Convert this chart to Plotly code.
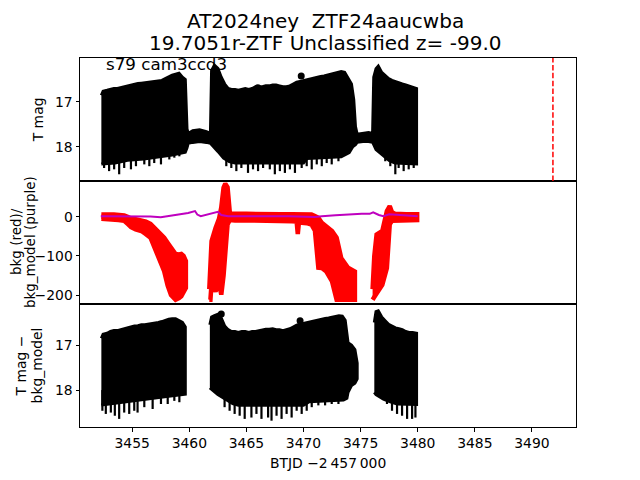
import plotly.graph_objects as go

# ---------------- data ----------------
# Panel 1: T mag -- bright-side envelope, faint-side envelope and error-bar spikes
t1_top = [3452.30, 3452.45, 3452.8, 3453.1, 3453.4, 3453.7, 3454.0, 3454.3, 3454.6, 3454.9,
          3455.2, 3455.5, 3455.8, 3456.1, 3456.4, 3456.7, 3457.0, 3457.3, 3457.6, 3457.9,
          3458.2, 3458.5, 3458.8, 3459.1, 3459.4, 3459.65, 3459.8, 3459.9, 3460.3, 3460.9,
          3461.5, 3461.85, 3461.95, 3462.2, 3462.5, 3462.8, 3463.1, 3463.4, 3463.7, 3464.0,
          3464.3, 3464.6, 3464.9, 3465.2, 3465.5, 3465.8, 3466.1, 3466.4, 3466.7, 3467.0,
          3467.3, 3467.6, 3467.9, 3468.2, 3468.5, 3468.8, 3469.1, 3469.4, 3469.7, 3470.0,
          3470.3, 3470.6, 3470.9, 3471.2, 3471.5, 3471.8, 3472.1, 3472.4, 3472.7, 3473.0,
          3473.3, 3473.6, 3473.9, 3474.2, 3474.4, 3474.55, 3474.7, 3475.2, 3475.7, 3476.05,
          3476.15, 3476.35, 3476.55, 3476.85, 3477.15, 3477.45, 3477.75, 3478.05, 3478.35, 3478.65,
          3478.95, 3479.25, 3479.55, 3479.9]
top1 = [16.85, 16.76, 16.74, 16.72, 16.70, 16.70, 16.68, 16.66, 16.64, 16.62,
        16.60, 16.59, 16.58, 16.57, 16.56, 16.55, 16.55, 16.54, 16.52, 16.48,
        16.44, 16.40, 16.38, 16.36, 16.45, 16.50, 17.60, 17.70, 17.64, 17.62,
        17.66, 17.70, 16.30, 16.18, 16.25, 16.45, 16.60, 16.70, 16.72, 16.72,
        16.74, 16.72, 16.70, 16.72, 16.70, 16.66, 16.66, 16.66, 16.64, 16.64,
        16.62, 16.62, 16.64, 16.66, 16.66, 16.64, 16.60, 16.56, 16.54, 16.52,
        16.50, 16.48, 16.46, 16.45, 16.43, 16.42, 16.40, 16.38, 16.36, 16.34,
        16.32, 16.34, 16.48, 16.60, 16.95, 17.55, 17.72, 17.70, 17.68, 17.70,
        16.45, 16.26, 16.20, 16.34, 16.42, 16.48, 16.52, 16.55, 16.58, 16.60,
        16.62, 16.64, 16.66, 16.70]
t1_bot = [3452.30, 3453.5, 3454.6, 3456.0, 3457.5, 3458.5, 3459.65, 3459.8, 3459.9, 3460.3,
          3460.9, 3461.5, 3461.85, 3461.95, 3462.5, 3463.0, 3463.5, 3464.0, 3470.0, 3470.3,
          3473.3, 3474.0, 3474.3, 3474.55, 3474.7, 3475.2, 3475.7, 3476.05, 3476.15, 3476.35,
          3477.0, 3477.5, 3478.0, 3479.9]
bot1 = [18.38, 18.36, 18.30, 18.27, 18.22, 18.18, 18.12, 18.02, 17.92, 17.90,
        17.88, 17.90, 17.92, 17.95, 18.10, 18.25, 18.33, 18.36, 18.36, 18.26,
        18.22, 18.13, 18.00, 17.95, 17.90, 17.88, 17.88, 17.90, 17.95, 18.06,
        18.20, 18.30, 18.36, 18.38]
sp1_t = [3452.54, 3452.98, 3453.42, 3453.86, 3454.30, 3454.89, 3455.33, 3456.06, 3456.50,
         3456.93, 3457.52, 3458.25, 3458.69, 3459.13, 3463.24, 3463.68, 3464.12, 3464.56,
         3465.14, 3465.58, 3466.02, 3466.46, 3467.05, 3467.49, 3467.93, 3468.37, 3468.81,
         3469.25, 3469.84, 3470.28, 3470.72, 3471.16, 3471.60, 3472.03, 3472.47, 3473.06,
         3477.16, 3477.60, 3478.04, 3478.33, 3478.77, 3479.21, 3479.65]
sp1_m = [18.47, 18.54, 18.50, 18.61, 18.47, 18.50, 18.43, 18.39, 18.43, 18.36, 18.39,
         18.28, 18.24, 18.21, 18.43, 18.47, 18.54, 18.47, 18.58, 18.50, 18.54, 18.47,
         18.50, 18.61, 18.54, 18.58, 18.50, 18.58, 18.47, 18.43, 18.50, 18.39, 18.43,
         18.36, 18.39, 18.32, 18.32, 18.43, 18.61, 18.47, 18.54, 18.50, 18.47]
dots1_t = [3469.8, 3466.0]
dots1_m = [16.42, 16.68]

# Panel 2: background (red) envelopes per segment, and bkg model (purple)
bkgA_t = [3452.30, 3452.6, 3453.0, 3453.4, 3453.8, 3454.3, 3454.6, 3454.9, 3455.3, 3455.8,
          3456.2, 3456.6, 3456.9, 3457.2, 3457.5, 3457.8, 3458.1, 3458.4, 3458.8, 3459.1,
          3459.3, 3459.5, 3459.7]
bkgA_hi = [6, 7, 6, 6, 5, 4, 0, -4, -6, -8, -12, -18, -26, -36, -44, -53, -66, -79,
           -95, -96, -95, -100, -113]
bkgA_lo = [-5, -6, -6, -7, -8, -10, -18, -26, -32, -36, -44, -53, -72, -95, -118, -139,
           -175, -200, -212, -208, -203, -195, -182]
bkgB_t = [3461.75, 3461.85, 3461.95, 3462.3, 3462.6, 3462.8, 3463.0, 3463.15, 3463.35,
          3463.55, 3464.0, 3465.0, 3466.0, 3467.0, 3468.0, 3469.0, 3469.4, 3469.5, 3469.6,
          3470.3, 3470.7, 3471.0, 3471.3, 3471.6, 3472.0, 3472.5, 3472.9, 3473.3, 3473.9,
          3474.5]
bkgB_hi = [-185, -100, -62, -28, -5, 24, 75, 85, 76, 10, 8, 8, 7, 7, 7, 7, 7, 7, 7, 6,
           6, 2, -2, -15, -25, -36, -53, -105, -130, -140]
bkgB_lo = [-212, -212, -170, -191, -170, -199, -150, -100, -19, -8, -9, -9, -10, -10, -10,
           -11, -12, -44, -14, -16, -20, -35, -130, -131, -140, -165, -212, -212, -212, -212]
bkgC_t = [3476.05, 3476.2, 3476.4, 3476.9, 3477.3, 3477.55, 3477.75, 3478.0, 3479.0, 3479.95]
bkgC_hi = [-185, -100, -45, -36, 15, 28, 12, 8, 7, 7]
bkgC_lo = [-212, -205, -200, -174, -131, -19, -10, -9, -9, -8]

model_t = [3452.25, 3454.6, 3456.6, 3457.5, 3458.7, 3459.9, 3460.5, 3460.7, 3461.0, 3461.6,
           3462.1, 3462.5, 3462.8, 3463.4, 3465.7, 3468.7, 3471.0, 3471.6, 3472.8, 3474.2,
           3475.1, 3475.8, 3476.1, 3476.6, 3477.0, 3477.5, 3480.0]
model_v = [2, 2, 1, -1, 4, 10, 15, 6, 2, 7, 10, 13, 5, 2, 2, 2, 0, 2, 4, 7, 8, 8, 12, 5,
           2, 7, 2]

# Panel 3: T mag - bkg_model envelopes per segment
mA_t = [3452.30, 3452.45, 3452.8, 3453.1, 3453.4, 3453.7, 3454.0, 3454.3, 3454.6, 3454.9,
        3455.2, 3455.5, 3455.8, 3456.1, 3456.4, 3456.7, 3457.0, 3457.3, 3457.6, 3457.9,
        3458.2, 3458.5, 3458.8, 3459.1, 3459.4, 3459.65]
mA_top = [16.85, 16.76, 16.74, 16.70, 16.68, 16.68, 16.66, 16.64, 16.61, 16.60, 16.58,
          16.57, 16.55, 16.55, 16.54, 16.52, 16.51, 16.50, 16.48, 16.45, 16.43, 16.42,
          16.42, 16.46, 16.50, 16.60]
mA_bt = [3452.30, 3453.5, 3455.0, 3457.5, 3459.65]
mA_bot = [18.33, 18.30, 18.24, 18.16, 18.09]
mB_t = [3461.80, 3461.95, 3462.2, 3462.5, 3462.8, 3463.1, 3463.4, 3463.7, 3464.0, 3464.3,
        3464.6, 3464.9, 3465.2, 3465.5, 3465.8, 3466.1, 3466.4, 3466.7, 3467.0, 3467.3,
        3467.6, 3467.9, 3468.2, 3468.5, 3468.8, 3469.1, 3469.4, 3469.7, 3470.0, 3470.3,
        3470.6, 3471.0, 3471.3, 3471.6, 3471.9, 3472.2, 3472.5, 3472.8, 3473.1, 3473.4,
        3473.65, 3473.8, 3473.9, 3474.2, 3474.5, 3474.7]
mB_top = [16.55, 16.38, 16.35, 16.32, 16.40, 16.58, 16.66, 16.70, 16.70, 16.72, 16.70,
          16.70, 16.72, 16.70, 16.70, 16.68, 16.66, 16.65, 16.65, 16.64, 16.66, 16.66,
          16.68, 16.66, 16.64, 16.60, 16.56, 16.54, 16.52, 16.50, 16.49, 16.47, 16.45,
          16.43, 16.41, 16.40, 16.38, 16.36, 16.35, 16.36, 16.45, 16.75, 16.95, 17.00,
          17.10, 17.40]
mB_bt = [3461.80, 3462.5, 3463.1, 3463.8, 3464.3, 3470.0, 3470.5, 3473.5, 3473.8, 3473.9,
         3474.2, 3474.5, 3474.7]
mB_bot = [17.95, 18.10, 18.20, 18.30, 18.34, 18.34, 18.26, 18.22, 18.18, 18.05, 17.90,
          17.85, 17.75]
mC_t = [3476.20, 3476.35, 3476.55, 3476.85, 3477.15, 3477.45, 3477.75, 3478.05, 3478.35,
        3478.65, 3478.95, 3479.25, 3479.55, 3479.9]
mC_top = [16.50, 16.26, 16.24, 16.38, 16.46, 16.54, 16.58, 16.62, 16.64, 16.66, 16.70,
          16.72, 16.72, 16.74]
mC_bt = [3476.20, 3476.35, 3477.0, 3477.6, 3478.2, 3479.9]
mC_bot = [18.05, 18.10, 18.20, 18.26, 18.31, 18.32]
sp3_t = [3452.39, 3452.69, 3453.13, 3453.48, 3453.86, 3454.30, 3454.74, 3455.18, 3455.47,
         3456.06, 3456.79, 3457.52, 3458.11, 3458.69, 3459.13, 3463.09, 3463.53, 3463.97,
         3464.41, 3464.85, 3465.44, 3465.88, 3466.32, 3466.90, 3467.20, 3467.64, 3468.08,
         3468.52, 3468.96, 3469.40, 3469.84, 3470.28, 3470.72, 3471.30, 3471.89, 3472.47,
         3473.06, 3477.31, 3477.75, 3478.19, 3478.63, 3479.07, 3479.51, 3479.80]
sp3_m = [18.46, 18.53, 18.50, 18.57, 18.64, 18.50, 18.53, 18.46, 18.50, 18.38, 18.42,
         18.31, 18.31, 18.24, 18.27, 18.38, 18.46, 18.53, 18.57, 18.64, 18.61, 18.53,
         18.64, 18.61, 18.68, 18.57, 18.64, 18.53, 18.61, 18.46, 18.53, 18.46, 18.38,
         18.34, 18.34, 18.31, 18.31, 18.31, 18.46, 18.53, 18.57, 18.64, 18.64, 18.61]
dots3_t = [3469.7, 3462.8]
dots3_m = [16.46, 16.31]

peak_t = 3491.84
xticks = [3455, 3460, 3465, 3470, 3475, 3480, 3485, 3490]
bkg_ticks = [-200, -100, 0]
bkg_ticktext = ["\u2212200", "\u2212100", "0"]
title_lines = ["AT2024ney\u00a0 ZTF24aaucwba", "19.7051r-ZTF Unclassified z= -99.0"]

# ---------------- figure ----------------
FONT = "DejaVu Sans"
RED = "#ff0000"
fig = go.Figure()


def blob(tt, hi, tb, lo, color, xa, ya, lw):
    fig.add_trace(go.Scatter(
        x=list(tt) + list(tb)[::-1], y=list(hi) + list(lo)[::-1],
        fill="toself", fillcolor=color, mode="lines",
        line=dict(color=color, width=lw), xaxis=xa, yaxis=ya,
        showlegend=False, hoverinfo="skip"))


def spikes(ts, ms, base, xa, ya):
    xs, ys = [], []
    for t, m in zip(ts, ms):
        xs += [t, t, None]
        ys += [base, m, None]
    fig.add_trace(go.Scatter(x=xs, y=ys, mode="lines", line=dict(color="black", width=2.2),
                             xaxis=xa, yaxis=ya, showlegend=False, hoverinfo="skip"))


# panel 1
blob(t1_top, top1, t1_bot, bot1, "black", "x", "y", 3)
spikes(sp1_t, sp1_m, 18.0, "x", "y")
fig.add_trace(go.Scatter(x=dots1_t, y=dots1_m, mode="markers",
                         marker=dict(color="black", size=7), xaxis="x", yaxis="y",
                         showlegend=False))

# panel 2
blob(bkgA_t, bkgA_hi, bkgA_t, bkgA_lo, RED, "x2", "y2", 4.5)
blob(bkgB_t, bkgB_hi, bkgB_t, bkgB_lo, RED, "x2", "y2", 4.5)
blob(bkgC_t, bkgC_hi, bkgC_t, bkgC_lo, RED, "x2", "y2", 4.5)
fig.add_trace(go.Scatter(x=model_t, y=model_v, mode="lines",
                         line=dict(color="#bf00bf", width=2), xaxis="x2", yaxis="y2",
                         showlegend=False))

# panel 3
blob(mA_t, mA_top, mA_bt, mA_bot, "black", "x3", "y3", 3)
blob(mB_t, mB_top, mB_bt, mB_bot, "black", "x3", "y3", 3)
blob(mC_t, mC_top, mC_bt, mC_bot, "black", "x3", "y3", 3)
spikes(sp3_t, sp3_m, 18.0, "x3", "y3")
fig.add_trace(go.Scatter(x=dots3_t, y=dots3_m, mode="markers",
                         marker=dict(color="black", size=7), xaxis="x3", yaxis="y3",
                         showlegend=False))

XR = [3450.43, 3493.86]
axis_common = dict(showline=True, linecolor="black", linewidth=1, mirror=True,
                   showgrid=False, zeroline=False, ticks="outside", ticklen=3.5,
                   tickwidth=0.8, tickcolor="black", automargin=False,
                   tickfont=dict(family=FONT, size=13.9, color="black"))

# page has an 8px body margin: figure is 624x464 so that the plot area sits at
# x 80..576, y 57.6..427.2 in the 640x480 window
fig.update_layout(
    width=624, height=464, plot_bgcolor="white", paper_bgcolor="white",
    margin=dict(l=72, r=56, t=49.6, b=44.8),
    showlegend=False,
    font=dict(family=FONT, color="black"),
    xaxis=dict(axis_common, domain=[0, 1], anchor="y", range=XR,
               showticklabels=False, ticks=""),
    xaxis2=dict(axis_common, domain=[0, 1], anchor="y2", range=XR,
                showticklabels=False, ticks=""),
    xaxis3=dict(axis_common, domain=[0, 1], anchor="y3", range=XR,
                tickvals=xticks),
    yaxis=dict(axis_common, domain=[2 / 3, 1], anchor="x", range=[18.76, 16.02],
               tickvals=[17, 18]),
    yaxis2=dict(axis_common, domain=[1 / 3, 2 / 3], anchor="x2", range=[-223, 92],
                tickvals=bkg_ticks, ticktext=bkg_ticktext),
    yaxis3=dict(axis_common, domain=[0, 1 / 3], anchor="x3", range=[18.82, 16.09],
                tickvals=[17, 18]),
)

fig.add_shape(type="line", xref="x", yref="y domain", x0=peak_t, x1=peak_t, y0=0, y1=1,
              line=dict(color=RED, width=1.5, dash="5.5px,2.4px"))


def PX(px):
    return (px - 80) / 496.0


def PY(py):
    return (427.2 - py) / 369.6


def note(text, x, y, size, angle=0, xanchor="center", yanchor="middle"):
    fig.add_annotation(text=text, x=PX(x), y=PY(y), xref="paper", yref="paper",
                       showarrow=False, textangle=angle, xanchor=xanchor,
                       yanchor=yanchor, font=dict(family=FONT, size=size, color="black"))


note(title_lines[0], 325, 20.5, 20)
note(title_lines[1], 325, 43, 20)
note("s79 cam3ccd3", 104, 64, 16.7, xanchor="left")
note("T mag", 38, 120, 13.9, angle=-90)
note("bkg (red)/", 16, 242, 13.5, angle=-90)
note("bkg_model (purple)", 30, 242, 13.5, angle=-90)
note("T mag \u2212", 20.5, 366, 13.9, angle=-90)
note("bkg_model", 36.5, 366, 13.9, angle=-90)
note("BTJD \u22122\u2009457\u2009000", 328, 463, 13.9)

fig.write_html("out.html")
